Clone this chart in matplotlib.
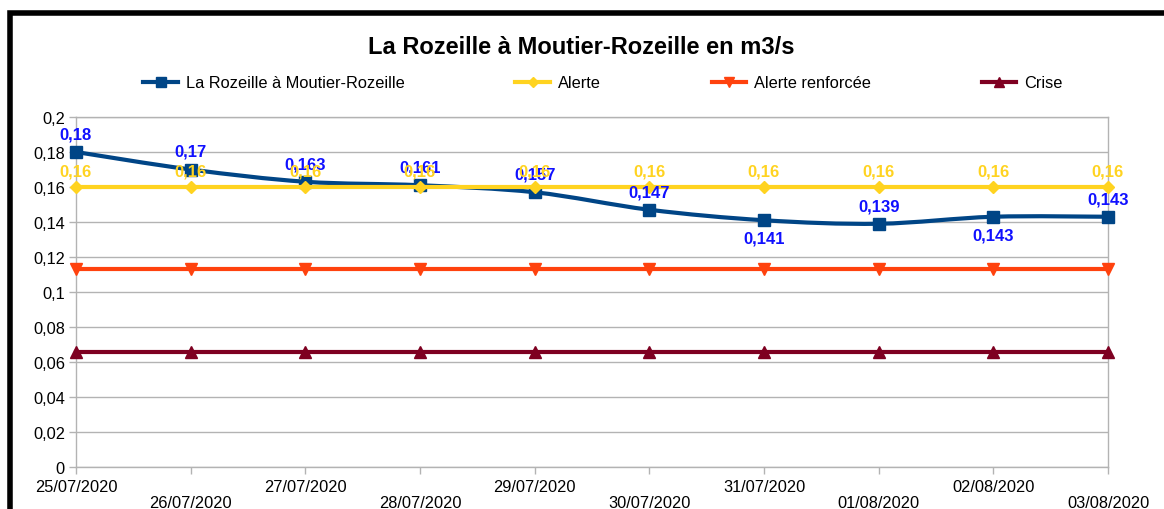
import matplotlib
matplotlib.use("Agg")
import matplotlib.pyplot as plt
import numpy as np
from matplotlib.path import Path
from matplotlib.patches import PathPatch, Rectangle
from matplotlib.lines import Line2D

plt.rcParams['font.family'] = ['Liberation Sans', 'DejaVu Sans']

dates = ["25/07/2020", "26/07/2020", "27/07/2020", "28/07/2020", "29/07/2020",
         "30/07/2020", "31/07/2020", "01/08/2020", "02/08/2020", "03/08/2020"]
debit = [0.18, 0.17, 0.163, 0.161, 0.157, 0.147, 0.141, 0.139, 0.143, 0.143]
alerte = [0.16] * 10
alerte_renforcee = [0.113] * 10
crise = [0.066] * 10
debit_label_below = [False, False, False, False, False, False, True, False, True, False]

C_DEBIT = "#004586"
C_ALERTE = "#ffd320"
C_RENF = "#ff420e"
C_CRISE = "#7e0021"
C_LBL = "#1010ff"

fig = plt.figure(figsize=(11.64, 5.10), dpi=100)
W, H = 1164, 510
ax = fig.add_axes([76 / W, 1 - 468 / H, (1108 - 76) / W, (468 - 118) / H])

x = np.arange(len(dates))

# smooth curve (Catmull-Rom bezier) for debit
pts = np.column_stack([x, debit]).astype(float)
verts = [tuple(pts[0])]
codes = [Path.MOVETO]
n = len(pts)
for i in range(n - 1):
    p0 = pts[i - 1] if i > 0 else pts[i]
    p1 = pts[i]
    p2 = pts[i + 1]
    p3 = pts[i + 2] if i + 2 < n else pts[i + 1]
    c1 = p1 + (p2 - p0) / 6.0
    c2 = p2 - (p3 - p1) / 6.0
    verts += [tuple(c1), tuple(c2), tuple(p2)]
    codes += [Path.CURVE4] * 3
ax.add_patch(PathPatch(Path(verts, codes), facecolor="none", edgecolor=C_DEBIT,
                       lw=3, zorder=3, capstyle="round", joinstyle="round"))
ax.plot(x, debit, ls="none", marker="s", ms=9, color=C_DEBIT, zorder=4, clip_on=False)

ax.plot(x, alerte, color=C_ALERTE, lw=3, marker="D", ms=6, zorder=5, clip_on=False)
ax.plot(x, alerte_renforcee, color=C_RENF, lw=3, marker="v", ms=9, zorder=3, clip_on=False)
ax.plot(x, crise, color=C_CRISE, lw=3, marker="^", ms=8, zorder=3, clip_on=False)

def fmt(v):
    return ("%g" % v).replace(".", ",")

LBL_FS = 12
for xi, v, below in zip(x, debit, debit_label_below):
    off = -18 if below else 18
    ax.annotate(fmt(v), (xi, v), xytext=(0, off), textcoords="offset pixels",
                ha="center", va="center", color=C_LBL, fontsize=LBL_FS,
                fontweight="bold", zorder=6, annotation_clip=False)
for xi, v in zip(x, alerte):
    ax.annotate(fmt(v), (xi, v), xytext=(0, 16), textcoords="offset pixels",
                ha="center", va="center", color=C_ALERTE, fontsize=LBL_FS,
                fontweight="bold", zorder=7, annotation_clip=False)

TICK_FS = 11.8
ax.set_xlim(0, len(dates) - 1)
ax.set_ylim(0, 0.2)
yt = np.round(np.arange(0, 0.2001, 0.02), 2)
ax.set_yticks(yt)
ax.set_yticklabels([fmt(v) for v in yt], fontsize=TICK_FS)
ax.set_xticks(x)
ax.set_xticklabels([])
for i, d in enumerate(dates):
    ax.annotate(d, (i, 0), xytext=(0, -20 if i % 2 == 0 else -36),
                textcoords="offset pixels", ha="center", va="center",
                fontsize=TICK_FS, annotation_clip=False)
ax.grid(axis="y", color="#b3b3b3", lw=1)
ax.set_axisbelow(True)
for s in ["left", "bottom", "right", "top"]:
    ax.spines[s].set_color("#b3b3b3")
    ax.spines[s].set_linewidth(1)
ax.tick_params(axis="both", color="#b3b3b3", length=5, width=1, pad=3)

fig.text(581 / W, 1 - 47 / H, "La Rozeille à Moutier-Rozeille en m3/s",
         ha="center", va="center", fontsize=17, fontweight="bold")

handles = [
    Line2D([], [], color=C_DEBIT, lw=3, marker="s", ms=7),
    Line2D([], [], color=C_ALERTE, lw=3, marker="D", ms=5),
    Line2D([], [], color=C_RENF, lw=3, marker="v", ms=7),
    Line2D([], [], color=C_CRISE, lw=3, marker="^", ms=7),
]
names = ["La Rozeille à Moutier-Rozeille", "Alerte", "Alerte renforcée", "Crise"]
leg = fig.legend(handles, names, ncol=4, loc="center", bbox_to_anchor=(603 / W, 1 - 84 / H),
                 frameon=False, fontsize=TICK_FS, handlelength=2.1, handletextpad=0.5,
                 columnspacing=6.75, markerscale=1.0)

fig.patches.append(Rectangle((10 / W, -0.1), 1.2, 1 - 14 / H + 0.1, transform=fig.transFigure,
                             facecolor="none", edgecolor="black", lw=4, zorder=10))

fig.savefig("out.png", dpi=100)
